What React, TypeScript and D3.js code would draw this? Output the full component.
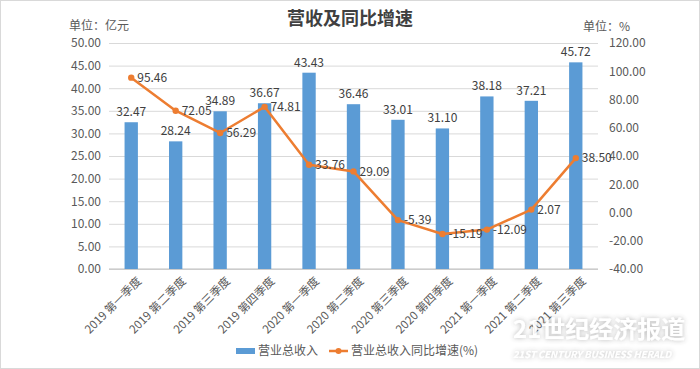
import { useEffect, useRef } from "react";
import * as d3 from "d3";

const categories = [
  "2019 第一季度", "2019 第二季度", "2019 第三季度", "2019 第四季度",
  "2020 第一季度", "2020 第二季度", "2020 第三季度", "2020 第四季度",
  "2021 第一季度", "2021 第二季度", "2021 第三季度",
];
const revenue = [32.47, 28.24, 34.89, 36.67, 43.43, 36.46, 33.01, 31.1, 38.18, 37.21, 45.72];
const growth = [95.46, 72.05, 56.29, 74.81, 33.76, 29.09, -5.39, -15.19, -12.09, 2.07, 38.5];
const leftTicks = [0, 5, 10, 15, 20, 25, 30, 35, 40, 45, 50];
const rightTicks = [-40, -20, 0, 20, 40, 60, 80, 100, 120];

const FONT = "'Noto Sans CJK SC', 'Noto Sans', sans-serif";
// plain hyphen for negatives, like the reference
const fmt = (v: number) => v.toFixed(2);

export default function App() {
  const ref = useRef<SVGSVGElement>(null);

  useEffect(() => {
    if (!ref.current) return;
    const svg = d3.select(ref.current);
    svg.selectAll("*").remove();

    const width = 700, height = 369;
    const margin = { top: 43, right: 102, bottom: 100, left: 109 };
    const x0 = margin.left, x1 = width - margin.right;
    const y0 = height - margin.bottom, y1 = margin.top;

    svg.append("rect").attr("fill", "#fff")
      .attr("stroke", "#d9d9d9").attr("x", 0.5).attr("y", 0.5)
      .attr("width", width - 1).attr("height", height - 1);

    const x = d3.scaleBand().domain(categories).range([x0, x1]).paddingInner(0.7).paddingOuter(0.35);
    const yL = d3.scaleLinear().domain([0, 50]).range([y0, y1]);
    const yR = d3.scaleLinear().domain([-40, 120]).range([y0, y1]);

    // grid
    svg.append("g")
      .attr("transform", `translate(${x0},0)`)
      .call(d3.axisLeft(yL).tickValues(leftTicks).tickSize(-(x1 - x0)).tickFormat(() => ""))
      .call(g => g.select(".domain").remove())
      .call(g => g.selectAll("line").attr("stroke", "#d9d9d9"));

    // left axis labels
    svg.append("g")
      .attr("transform", `translate(${x0},0)`)
      .call(d3.axisLeft(yL).tickValues(leftTicks).tickSize(0).tickPadding(8).tickFormat(d => fmt(d as number)))
      .call(g => g.select(".domain").remove())
      .call(g => g.selectAll("text").attr("fill", "#595959").style("font-size", "12px").style("font-family", FONT));

    // right axis labels
    svg.append("g")
      .attr("transform", `translate(${x1},0)`)
      .call(d3.axisRight(yR).tickValues(rightTicks).tickSize(0).tickPadding(11).tickFormat(d => fmt(d as number)))
      .call(g => g.select(".domain").remove())
      .call(g => g.selectAll("text").attr("fill", "#595959").style("font-size", "12px").style("font-family", FONT));

    // baseline
    svg.append("line").attr("x1", x0).attr("x2", x1).attr("y1", y0).attr("y2", y0).attr("stroke", "#bfbfbf");

    // x axis labels
    svg.append("g")
      .attr("transform", `translate(0,${y0})`)
      .call(d3.axisBottom(x).tickSize(0).tickPadding(0))
      .call(g => g.select(".domain").remove())
      .call(g => g.selectAll("text")
        .attr("fill", "#595959").style("font-size", "11.5px").style("font-family", FONT)
        .attr("text-anchor", "end")
        .attr("transform", "translate(8,10) rotate(-45)")
        .attr("dy", "0.35em"));

    // bars
    svg.append("g").selectAll("rect").data(revenue).join("rect")
      .attr("x", (d, i) => x(categories[i])!)
      .attr("width", x.bandwidth())
      .attr("y", d => yL(d))
      .attr("height", d => y0 - yL(d))
      .attr("fill", "#5b9bd5");

    svg.append("g").selectAll("text").data(revenue).join("text")
      .attr("x", (d, i) => x(categories[i])! + x.bandwidth() / 2)
      .attr("y", d => yL(d) - 6)
      .attr("text-anchor", "middle")
      .attr("fill", "#404040").style("font-size", "12px").style("font-family", FONT)
      .text(d => fmt(d));

    // line
    const cx = (i: number) => x(categories[i])! + x.bandwidth() / 2;
    const line = d3.line<number>().x((d, i) => cx(i)).y(d => yR(d));
    svg.append("path").datum(growth)
      .attr("fill", "none").attr("stroke", "#ed7d31").attr("stroke-width", 2.5)
      .attr("stroke-linejoin", "round").attr("d", line);
    svg.append("g").selectAll("circle").data(growth).join("circle")
      .attr("cx", (d, i) => cx(i)).attr("cy", d => yR(d)).attr("r", 3.2)
      .attr("fill", "#ed7d31");
    svg.append("g").selectAll("text").data(growth).join("text")
      .attr("x", (d, i) => cx(i) + 6)
      .attr("y", d => yR(d))
      .attr("dy", "0.35em")
      .attr("fill", "#404040").style("font-size", "12px").style("font-family", FONT)
      .text(d => fmt(d));

    // title and units
    svg.append("text").attr("x", 350).attr("y", 25).attr("text-anchor", "middle")
      .attr("fill", "#404040").style("font-size", "18px").style("font-weight", "bold").style("font-family", FONT)
      .text("营收及同比增速");
    svg.append("text").attr("x", 69).attr("y", 30)
      .attr("fill", "#595959").style("font-size", "12px").style("font-family", FONT).text("单位：亿元");
    svg.append("text").attr("x", 583).attr("y", 31)
      .attr("fill", "#595959").style("font-size", "12px").style("font-family", FONT).text("单位：%");

    // legend
    const lg = svg.append("g").style("font-family", FONT).style("font-size", "12px");
    lg.append("rect").attr("x", 236).attr("y", 348).attr("width", 19).attr("height", 6).attr("fill", "#5b9bd5");
    lg.append("text").attr("x", 258).attr("y", 351).attr("dy", "0.35em").attr("fill", "#595959").text("营业总收入");
    lg.append("line").attr("x1", 329).attr("x2", 348).attr("y1", 351).attr("y2", 351)
      .attr("stroke", "#ed7d31").attr("stroke-width", 2.5);
    lg.append("circle").attr("cx", 338.5).attr("cy", 351).attr("r", 3).attr("fill", "#ed7d31");
    lg.append("text").attr("x", 351).attr("y", 351).attr("dy", "0.35em").attr("fill", "#595959").text("营业总收入同比增速(%)");

    // watermark
    const defs = svg.append("defs");
    const f = defs.append("filter").attr("id", "wm");
    f.append("feDropShadow").attr("dx", 0).attr("dy", 0).attr("stdDeviation", 2.5)
      .attr("flood-color", "#777").attr("flood-opacity", 0.6);
    const wm = svg.append("g").attr("filter", "url(#wm)").attr("fill", "#fff").attr("opacity", 0.9);
    wm.append("text").attr("x", 513).attr("y", 338).style("font-family", FONT)
      .style("font-size", "24px").style("font-weight", "bold").text("21世纪经济报道");
    wm.append("text").attr("x", 513).attr("y", 358).style("font-family", FONT)
      .style("font-size", "9.5px").style("font-style", "italic").style("font-weight", "bold")
      .text("21ST CENTURY BUSINESS HERALD");
  }, []);

  return (
    <svg ref={ref} width={700} height={369}
      style={{ position: "fixed", left: 0, top: 0, display: "block" }} />
  );
}
